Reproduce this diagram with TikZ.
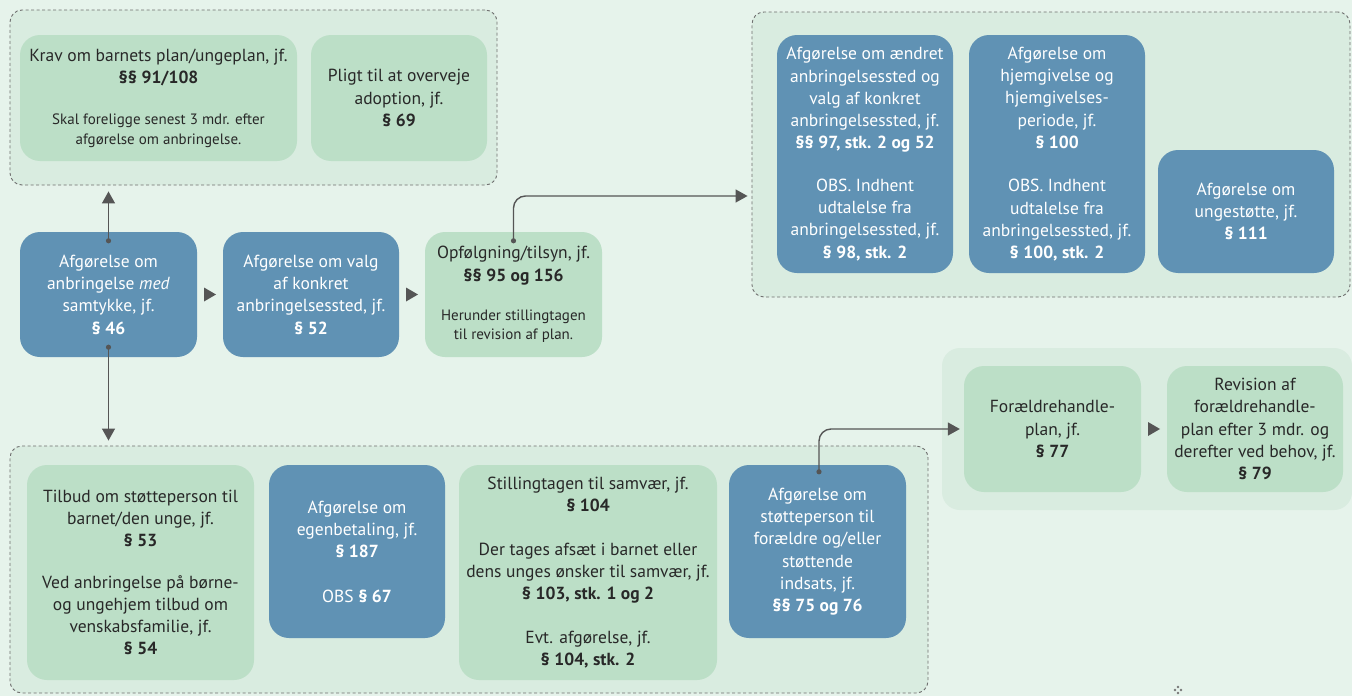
\documentclass[tikz,border=0pt]{standalone}
\usepackage{fontspec}
\setmainfont{PT Sans}
\usetikzlibrary{arrows.meta,calc}
\definecolor{bgc}{RGB}{230,243,235}
\definecolor{grpc}{RGB}{217,236,224}
\definecolor{greenc}{RGB}{188,223,199}
\definecolor{bluec}{RGB}{96,146,180}
\definecolor{inkc}{RGB}{40,40,40}
\definecolor{arrc}{RGB}{85,85,85}
\definecolor{dashc}{RGB}{110,110,110}
\newcommand{\smalltxt}{\fontsize{15}{19}\selectfont}
\begin{document}
\begin{tikzpicture}[x=1pt,y=-1pt,
  group/.style={draw=dashc, dash pattern=on 3pt off 2.5pt, line width=0.9pt, fill=grpc, rounded corners=12pt, inner sep=0pt},
  plaingroup/.style={fill=grpc, rounded corners=18pt, inner sep=0pt},
  box/.style={rounded corners=20pt, align=center, inner sep=0pt, font=\fontsize{17.5}{22.3}\selectfont},
  greenbox/.style={box, fill=greenc, text=inkc},
  bluebox/.style={box, fill=bluec, text=white},
  conn/.style={draw=arrc, line width=1.4pt, -{Triangle[width=13pt,length=12pt]}, rounded corners=12pt},
  dotc/.style={fill=arrc}
]
\useasboundingbox (0,0) rectangle (1352,696);
\fill[bgc] (0,0) rectangle (1352,696);

% groups
\node[group, minimum width=487, minimum height=175] (tl) at (253.5,97.5) {};
\node[group, minimum width=598, minimum height=285] (tr) at (1051,154.5) {};
\node[group, minimum width=918, minimum height=247] (bot) at (469,569.5) {};
\node[plaingroup, minimum width=410, minimum height=162] (rg) at (1147,429) {};

% top-left group
\node[greenbox, minimum width=277, minimum height=126] (krav) at (158.5,98)
 {Krav om barnets plan/ungeplan, jf.\\\textbf{§§ 91/108}\\[19pt]{\smalltxt Skal foreligge senest 3 mdr. efter}\\[-3pt]{\smalltxt afgørelse om anbringelse.}};
\node[greenbox, minimum width=176, minimum height=126] (pligt) at (399,98)
 {Pligt til at overveje\\adoption, jf.\\\textbf{§ 69}};

% main row
\node[bluebox, minimum width=177, minimum height=125] (A) at (108.5,294.5)
 {Afgørelse om\\anbringelse \textit{med}\\samtykke, jf.\\\textbf{§ 46}};
\node[bluebox, minimum width=176, minimum height=125] (B) at (311,294.5)
 {Afgørelse om valg\\af konkret\\anbringelsessted, jf.\\\textbf{§ 52}};
\node[greenbox, minimum width=177, minimum height=125] (C) at (513.5,294.5)
 {Opfølgning/tilsyn, jf.\\\textbf{§§ 95 og 156}\\[17pt]{\smalltxt Herunder stillingtagen}\\[-3pt]{\smalltxt til revision af plan.}};

% top-right group
\node[bluebox, minimum width=176, minimum height=238] (D) at (865,154)
 {Afgørelse om ændret\\anbringelsessted og\\valg af konkret\\anbringelsessted, jf.\\\textbf{§§ 97, stk. 2 og 52}\\[20pt]OBS. Indhent\\udtalelse fra\\anbringelsessted, jf.\\\textbf{§ 98, stk. 2}};
\node[bluebox, minimum width=176, minimum height=238] (E) at (1057,154)
 {Afgørelse om\\hjemgivelse og\\hjemgivelses-\\periode, jf.\\\textbf{§ 100}\\[21pt]OBS. Indhent\\udtalelse fra\\anbringelsessted, jf.\\\textbf{§ 100, stk. 2}};
\node[bluebox, minimum width=176, minimum height=123] (F) at (1246,211.5)
 {Afgørelse om\\ungestøtte, jf.\\\textbf{§ 111}};

% bottom group
\node[greenbox, minimum width=227, minimum height=215] (G) at (140.5,572.5)
 {Tilbud om støtteperson til\\barnet/den unge, jf.\\\textbf{§ 53}\\[19pt]Ved anbringelse på børne-\\og ungehjem tilbud om\\venskabsfamilie, jf.\\\textbf{§ 54}};
\node[bluebox, minimum width=176, minimum height=173] (H) at (357,551.5)
 {Afgørelse om\\egenbetaling, jf.\\\textbf{§ 187}\\[22pt]OBS \textbf{§ 67}};
\node[greenbox, minimum width=258, minimum height=215] (I) at (588,572.5)
 {Stillingtagen til samvær, jf.\\\textbf{§ 104}\\[21pt]Der tages afsæt i barnet eller\\dens unges ønsker til samvær, jf.\\\textbf{§ 103, stk. 1 og 2}\\[21pt]Evt. afgørelse, jf.\\\textbf{§ 104, stk. 2}};
\node[bluebox, minimum width=177, minimum height=173] (J) at (817.5,551.5)
 {Afgørelse om\\støtteperson til\\forældre og/eller\\støttende\\indsats, jf.\\\textbf{§§ 75 og 76}};

% right group
\node[greenbox, minimum width=177, minimum height=126] (K) at (1052.5,429)
 {Forældrehandle-\\plan, jf.\\\textbf{§ 77}};
\node[greenbox, minimum width=176, minimum height=126] (L) at (1255,429)
 {Revision af\\forældrehandle-\\plan efter 3 mdr. og\\derefter ved behov, jf.\\\textbf{§ 79}};

% connector start points
\coordinate (a1) at ($(A.north)+(0,9)$);
\coordinate (a2) at ($(A.south)+(0,-10)$);
\coordinate (c1) at ($(C.north)+(0,9)$);
\coordinate (j1) at ($(J.north)+(1.5,7)$);

\draw[conn, shorten >=6pt] (a1) -- (a1 |- tl.south);
\draw[conn, shorten >=5pt] (a2) -- (a2 |- bot.north);
\draw[conn, shorten >=4pt] (c1) |- (tr.west |- 0,196);
\draw[conn, shorten >=4pt] (j1) |- (K.west);
\foreach \p in {a1,a2,c1,j1} \fill[dotc] (\p) circle (2.6pt);

% standalone triangles
\fill[arrc] ($(A.east)!0.5!(B.west)$) ++(-6,-7) -- ++(12,7) -- ++(-12,7) -- cycle;
\fill[arrc] ($(B.east)!0.5!(C.west)$) ++(-6,-7) -- ++(12,7) -- ++(-12,7) -- cycle;
\fill[arrc] ($(K.east)!0.5!(L.west)$) ++(-6,-7) -- ++(12,7) -- ++(-12,7) -- cycle;

% small mark
\foreach \q in {(1178,687),(1175,690),(1181,690),(1178,693)} \fill[arrc!80] \q circle (1.3pt);
\end{tikzpicture}
\end{document}
